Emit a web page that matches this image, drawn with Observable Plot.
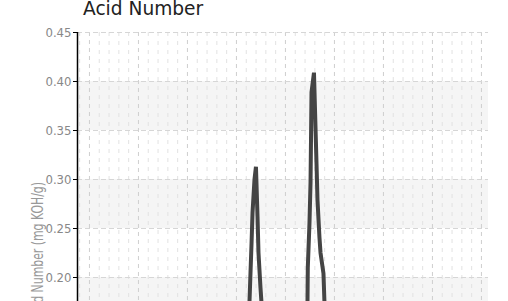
<!DOCTYPE html>
<html>
<head>
<meta charset="utf-8">
<script src="https://cdn.jsdelivr.net/npm/d3@7"></script>
<script src="https://cdn.jsdelivr.net/npm/@observablehq/plot@0.6"></script>
<style>
  html, body { margin: 0; padding: 0; background: #fff; overflow: hidden; width: 508px; height: 301px; }
  #wrap { position: relative; width: 508px; height: 301px; }
  #title { position: absolute; left: 83px; top: -2px; font-family: "DejaVu Sans", sans-serif; font-size: 18.6px; color: #222; white-space: nowrap; }
  #chart { position: absolute; left: 0; top: 0; }
</style>
</head>
<body>
<div id="wrap">
  <div id="chart"></div>
  <div id="title">Acid Number</div>
</div>
<script>
// Operating hours (x) and acid number (mg KOH/g)
const hours = [450, 800, 1150, 1500, 1850, 2120, 2133, 2143, 2154, 2164, 2184, 2199, 2215, 2225, 2245, 2255, 2270, 2500, 2712, 2725, 2728, 2745, 2756, 2766, 2791, 2817, 2827, 2847, 2858, 2888, 2898, 2912, 3200, 3600, 4000, 4450];
const acid  = [0.08, 0.09, 0.08, 0.10, 0.09, 0.10, 0.175, 0.204, 0.235, 0.266, 0.300, 0.313, 0.262, 0.225, 0.190, 0.175, 0.10, 0.09, 0.10, 0.175, 0.210, 0.255, 0.297, 0.389, 0.409, 0.316, 0.279, 0.241, 0.225, 0.204, 0.175, 0.10, 0.09, 0.08, 0.09, 0.08];

const yTicks = [0, 0.05, 0.10, 0.15, 0.20, 0.25, 0.30, 0.35, 0.40, 0.45];
const bandLows = [0.05, 0.15, 0.25, 0.35];
const majorX = [500, 1000, 1500, 2000, 2500, 3000, 3500, 4000, 4500];
const minorX = d3.range(400, 4572, 100).filter(v => v % 500 !== 0);

const data = hours.map((h, i) => ({hours: h, acid: acid[i]}));
const narrow = "'Liberation Sans Narrow', 'DejaVu Sans Condensed', sans-serif";

const chart = Plot.plot({
  width: 508,
  height: 503,
  marginTop: 32,
  marginBottom: 30,
  marginLeft: 77,
  marginRight: 20,
  style: {fontFamily: narrow, fontSize: "13px", background: "transparent"},
  x: {domain: [378, 4572], axis: null},
  y: {domain: [0, 0.45], axis: null},
  marks: [
    Plot.rect(bandLows, {y1: d => d, y2: d => d + 0.05, fill: "#f5f5f5"}),
    Plot.ruleX(minorX, {stroke: "#e2e2e2", strokeDasharray: "4,5"}),
    Plot.ruleX(majorX, {stroke: "#cfcfcf", strokeDasharray: "4,4"}),
    Plot.ruleY(yTicks, {stroke: "#d6d6d6", strokeDasharray: "5,3"}),
    Plot.axisY({ticks: yTicks, tickFormat: d3.format(".2f"), tickSize: 4, tickPadding: 2, label: null, stroke: "#000", fill: "#888"}),
    Plot.ruleX([378], {stroke: "#000", strokeWidth: 1.5}),
    Plot.line(data, {x: "hours", y: "acid", stroke: "#444", strokeWidth: 4, strokeLinejoin: "miter"})
  ]
});

d3.select(chart).append("text")
  .attr("transform", "translate(43,182) rotate(-90)")
  .attr("text-anchor", "end")
  .attr("fill", "#999")
  .attr("textLength", 137)
  .attr("lengthAdjust", "spacingAndGlyphs")
  .style("font-family", narrow)
  .style("font-size", "16px")
  .text("Acid Number (mg KOH/g)");

document.getElementById("chart").appendChild(chart);
</script>
</body>
</html>
